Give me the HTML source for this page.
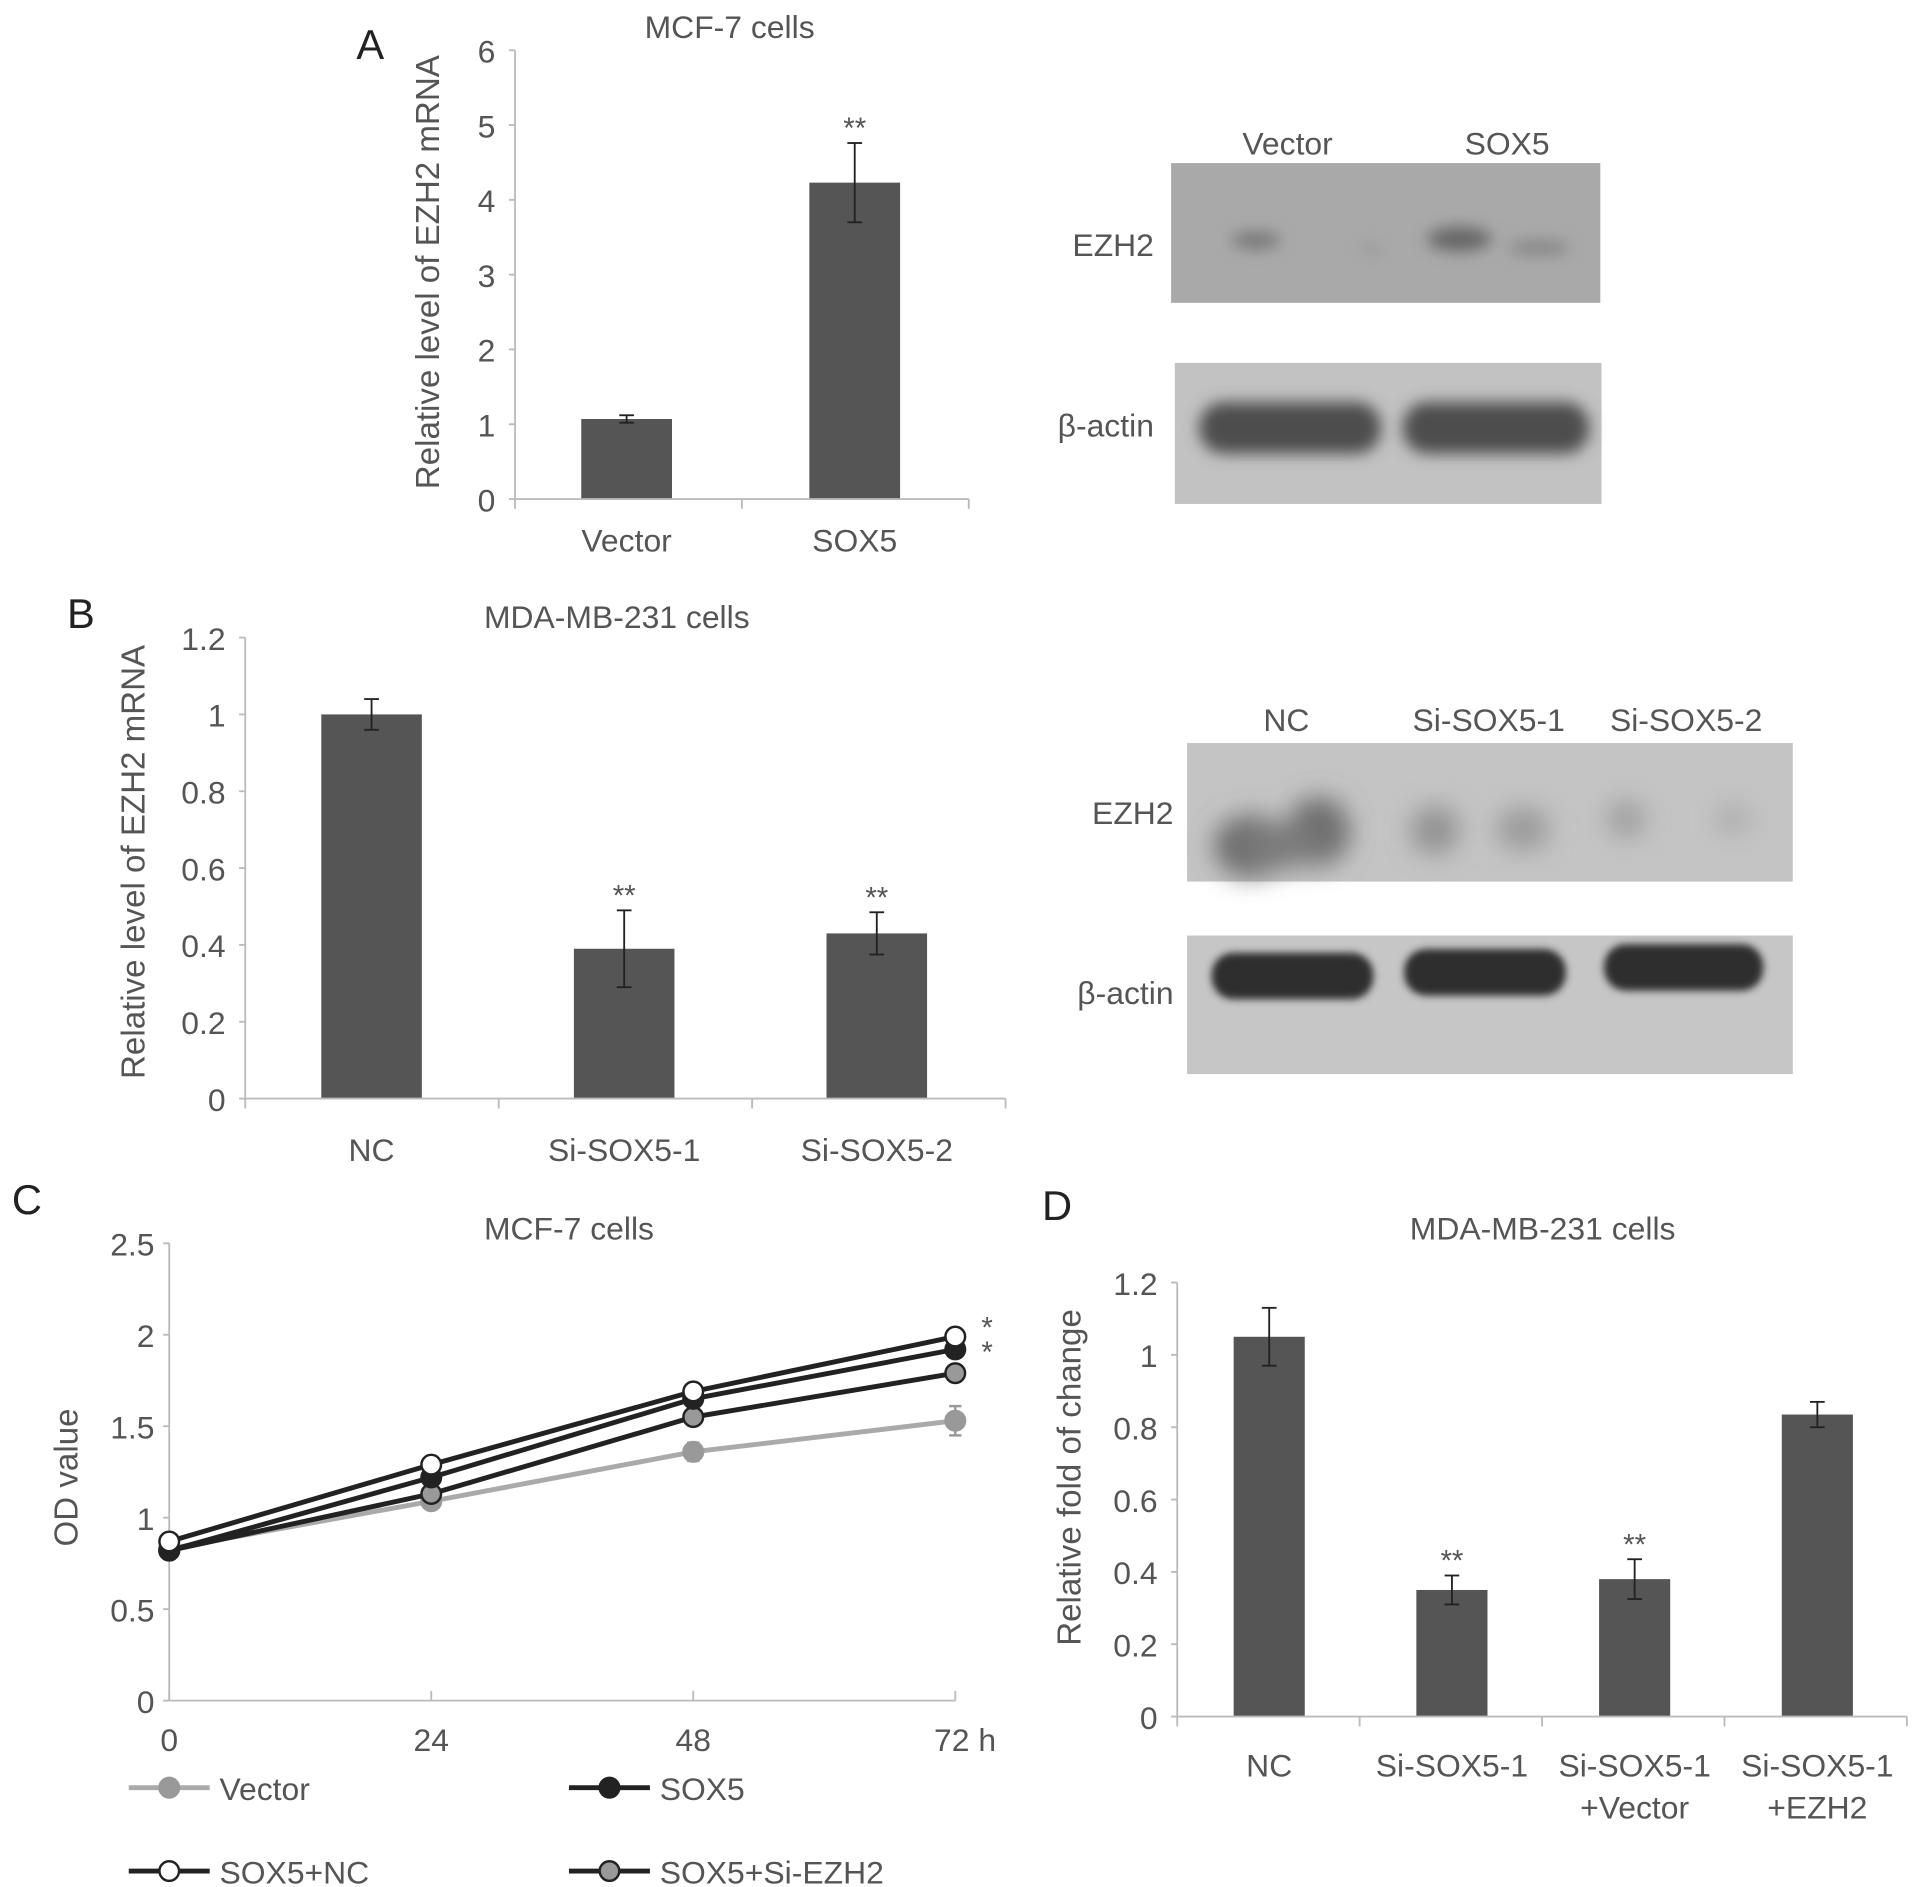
<!DOCTYPE html>
<html><head><meta charset="utf-8">
<style>
html,body{margin:0;padding:0;background:#fff;}
svg{display:block;}
text{font-family:"Liberation Sans",sans-serif;fill:#555;}
</style></head>
<body>
<svg id="fig" width="1913" height="1887" viewBox="0 0 1560 1539" preserveAspectRatio="none" xmlns="http://www.w3.org/2000/svg">
<defs>
<filter id="blur6" x="-50%" y="-50%" width="200%" height="200%"><feGaussianBlur stdDeviation="6"/></filter>
<filter id="blur10" x="-50%" y="-50%" width="200%" height="200%"><feGaussianBlur stdDeviation="10"/></filter>
<filter id="blur3" x="-50%" y="-50%" width="200%" height="200%"><feGaussianBlur stdDeviation="3"/></filter>
</defs>
<!-- Western blot A -->
<g>
<text x="1050" y="126" font-size="26" text-anchor="middle">Vector</text>
<text x="1229" y="126" font-size="26" text-anchor="middle">SOX5</text>
<text x="941" y="209" font-size="26" text-anchor="end">EZH2</text>
<text x="941" y="356" font-size="26" text-anchor="end">β-actin</text>
<rect x="955" y="133" width="350" height="114" fill="#a9a9a9"/>
<g filter="url(#blur6)">
<ellipse cx="1024" cy="196" rx="20" ry="7" fill="#777"/>
<ellipse cx="1118" cy="203" rx="8" ry="5" fill="#999"/>
<ellipse cx="1190" cy="195" rx="26" ry="10" fill="#666"/>
<ellipse cx="1255" cy="202" rx="25" ry="6" fill="#858585"/>
</g>
<rect x="958" y="296" width="348" height="115" fill="#c2c2c2"/>
<g filter="url(#blur6)">
<rect x="978" y="328" width="148" height="42" rx="20" fill="#4e4e4e"/>
<rect x="1144" y="328" width="152" height="42" rx="20" fill="#4e4e4e"/>
</g>
</g>
<!-- Western blot B -->
<g>
<text x="1049" y="596" font-size="26" text-anchor="middle">NC</text>
<text x="1214" y="596" font-size="26" text-anchor="middle">Si-SOX5-1</text>
<text x="1375" y="596" font-size="26" text-anchor="middle">Si-SOX5-2</text>
<text x="957" y="672" font-size="26" text-anchor="end">EZH2</text>
<text x="957" y="819" font-size="26" text-anchor="end">β-actin</text>
<rect x="968" y="606" width="494" height="113" fill="#c4c4c4"/>
<g filter="url(#blur10)">
<ellipse cx="1020" cy="690" rx="30" ry="25" fill="#6a6a6a"/>
<ellipse cx="1075" cy="678" rx="26" ry="28" fill="#6e6e6e"/>
<ellipse cx="1045" cy="690" rx="35" ry="18" fill="#7a7a7a"/>
<ellipse cx="1170" cy="677" rx="20" ry="20" fill="#939393"/>
<ellipse cx="1242" cy="676" rx="22" ry="18" fill="#9b9b9b"/>
<ellipse cx="1326" cy="668" rx="16" ry="16" fill="#a0a0a0"/>
<ellipse cx="1413" cy="668" rx="15" ry="12" fill="#adadad"/>
</g>
<rect x="968" y="763" width="494" height="113" fill="#c6c6c6"/>
<g filter="url(#blur3)">
<rect x="988" y="777" width="132" height="38" rx="18" fill="#2e2e2e"/>
<rect x="1145" y="774" width="132" height="38" rx="18" fill="#2e2e2e"/>
<rect x="1308" y="770" width="130" height="38" rx="18" fill="#2e2e2e"/>
</g>
</g>
</svg>
<script>
const NS='http://www.w3.org/2000/svg';
const fig=document.getElementById('fig');
// ---- data ----
const aCats=['Vector','SOX5'];
const aVals=[1.07,4.23];
const aErrs=[0.05,0.53];
const aSig=['','**'];
const aTicks=[0,1,2,3,4,5,6];

const bCats=['NC','Si-SOX5-1','Si-SOX5-2'];
const bVals=[1.0,0.39,0.43];
const bErrs=[0.04,0.1,0.055];
const bSig=['','**','**'];
const bTicks=['0','0.2','0.4','0.6','0.8','1','1.2'];

const cTimes=[0,24,48,72];
const cTimeLabels=['0','24','48','72 h'];
const cVector=[0.83,1.09,1.36,1.53];
const cVectorErr=[0.03,0.03,0.05,0.08];
const cSox5=[0.82,1.22,1.65,1.92];
const cSox5NC=[0.87,1.29,1.69,1.99];
const cSox5Si=[0.82,1.13,1.55,1.79];
const cTicks=['0','0.5','1','1.5','2','2.5'];

const dCats=[['NC'],['Si-SOX5-1'],['Si-SOX5-1','+Vector'],['Si-SOX5-1','+EZH2']];
const dVals=[1.05,0.35,0.38,0.835];
const dErrs=[0.08,0.04,0.055,0.035];
const dSig=['','**','**',''];
const dTicks=['0','0.2','0.4','0.6','0.8','1','1.2'];

function el(tag,attrs,parent){const e=document.createElementNS(NS,tag);for(const k in attrs)e.setAttribute(k,attrs[k]);(parent||fig).appendChild(e);return e;}
function txt(s,x,y,size,anchor,parent,name){const t=el('text',{x:x,y:y,'font-size':size,'text-anchor':anchor||'middle'},parent);t.textContent=s;


return t;}

function barChart(cfg){
  const g=el('g',{});
  
  
  const {x0,x1,y0,yTop,vmax,cats,vals,errs,sig,ticks,centers,bw}=cfg;
  const Y=v=>y0-(v/vmax)*(y0-yTop);
  const X=i=>centers[0]+i*(centers[1]-centers[0]);
  // y axis
  const ya=el('line',{x1:x0,y1:yTop,x2:x0,y2:y0,stroke:'#bbb','stroke-width':1.5},g);
  
  
  ticks.forEach(t=>{const v=parseFloat(t);
    el('line',{x1:x0-5,y1:Y(v),x2:x0,y2:Y(v),stroke:'#bbb','stroke-width':1.5},g);
    txt(String(t),x0-16,Y(v)+10,26,'end',g,'y-tick-label');});
  // bars
  vals.forEach((v,i)=>{const cx=X(i);
    const r=el('rect',{x:cx-bw/2,y:Y(v),width:bw,height:y0-Y(v),fill:'#555'},g);
    
    
    const e=errs[i];
    el('line',{x1:cx,y1:Y(v+e),x2:cx,y2:Y(v-e),stroke:'#222','stroke-width':1.5},g);
    el('line',{x1:cx-6,y1:Y(v+e),x2:cx+6,y2:Y(v+e),stroke:'#222','stroke-width':1.5},g);
    el('line',{x1:cx-6,y1:Y(v-e),x2:cx+6,y2:Y(v-e),stroke:'#222','stroke-width':1.5},g);
    if(sig[i])txt(sig[i],cx,Y(v+e)-4,24,'middle',g,'significance-mark');
    const lab=cats[i];const lines=Array.isArray(lab)?lab:[lab];
    lines.forEach((s,j)=>txt(s,cx,cfg.labY+j*34,26,'middle',g,'x-category-label'));
  });
  // x axis
  const xa=el('line',{x1:x0,y1:y0,x2:x1,y2:y0,stroke:'#bbb','stroke-width':1.5},g);
  
  
  const step=(x1-x0)/cats.length;
  for(let i=1;i<=cats.length;i++)el('line',{x1:x0+i*step,y1:y0,x2:x0+i*step,y2:y0+8,stroke:'#bbb','stroke-width':1.5},g);
  el('line',{x1:x0,y1:y0,x2:x0,y2:y0+8,stroke:'#bbb','stroke-width':1.5},g);
  // title / y title / panel letter
  txt(cfg.title,cfg.titleX,cfg.titleY,26,'middle',g,'chart-title');
  const yt=txt(cfg.yTitle,0,0,27,'middle',g,'y-axis-title');
  yt.setAttribute('transform','translate('+cfg.yTitleX+','+cfg.yTitleY+') rotate(-90)');
  txt(cfg.letter,cfg.letX,cfg.letY,34,'middle',g,'panel-letter').setAttribute('style','fill:#222');
}

barChart({name:'panel-a-chart',x0:420,x1:790,y0:407,yTop:41,vmax:6,cats:aCats,vals:aVals,errs:aErrs,sig:aSig,ticks:aTicks,centers:[511,697],bw:74,labY:450,
 title:'MCF-7 cells',titleX:595,titleY:31,yTitle:'Relative level of EZH2 mRNA',yTitleX:358,yTitleY:222,letter:'A',letX:302,letY:48});
barChart({name:'panel-b-chart',x0:200,x1:820,y0:896,yTop:520,vmax:1.2,cats:bCats,vals:bVals,errs:bErrs,sig:bSig,ticks:bTicks,centers:[303,509],bw:82,labY:947,
 title:'MDA-MB-231 cells',titleX:503,titleY:512,yTitle:'Relative level of EZH2 mRNA',yTitleX:118,yTitleY:703,letter:'B',letX:66,letY:512});
barChart({name:'panel-d-chart',x0:960,x1:1555,y0:1400,yTop:1046,vmax:1.2,cats:dCats,vals:dVals,errs:dErrs,sig:dSig,ticks:dTicks,centers:[1035,1184],bw:58,labY:1449,
 title:'MDA-MB-231 cells',titleX:1258,titleY:1011,yTitle:'Relative fold of change',yTitleX:881,yTitleY:1205,letter:'D',letX:862,letY:995});

// ---- panel C line chart ----
(function(){
  const g=el('g',{});
  
  
  const x0=138,x1=779,y0=1387,yTop=1014,vmax=2.5;
  const X=t=>x0+(t/72)*(x1-x0);
  const Y=v=>y0-(v/vmax)*(y0-yTop);
  const ya=el('line',{x1:x0,y1:yTop,x2:x0,y2:y0,stroke:'#bbb','stroke-width':1.5},g);
  
  
  cTicks.forEach(t=>{const v=parseFloat(t);
    el('line',{x1:x0-5,y1:Y(v),x2:x0,y2:Y(v),stroke:'#bbb','stroke-width':1.5},g);
    txt(t,x0-12,Y(v)+10,26,'end',g,'y-tick-label');});
  const xa=el('line',{x1:x0,y1:y0,x2:x1,y2:y0,stroke:'#bbb','stroke-width':1.5},g);
  
  
  cTimes.forEach((t,i)=>{el('line',{x1:X(t),y1:y0-8,x2:X(t),y2:y0,stroke:'#bbb','stroke-width':1.5},g);
    txt(cTimeLabels[i],X(t)+(i==3?8:0),1428,26,'middle',g,'x-tick-label');});
  const series=[
    {name:'vector',vals:cVector,stroke:'#aaa',fill:'#999',mstroke:'#999',err:cVectorErr},
    {name:'sox5-si-ezh2',vals:cSox5Si,stroke:'#222',fill:'#999',mstroke:'#222'},
    {name:'sox5',vals:cSox5,stroke:'#222',fill:'#222',mstroke:'#222'},
    {name:'sox5-nc',vals:cSox5NC,stroke:'#222',fill:'#fff',mstroke:'#222'}];
  series.forEach(s=>{
    const pts=cTimes.map((t,i)=>X(t)+','+Y(s.vals[i])).join(' ');
    const pl=el('polyline',{points:pts,fill:'none',stroke:s.stroke,'stroke-width':4},g);
    
    
    cTimes.forEach((t,i)=>{
      if(s.err){const e=s.err[i];el('line',{x1:X(t),y1:Y(s.vals[i]+e),x2:X(t),y2:Y(s.vals[i]-e),stroke:'#999','stroke-width':2},g);
        el('line',{x1:X(t)-5,y1:Y(s.vals[i]+e),x2:X(t)+5,y2:Y(s.vals[i]+e),stroke:'#999','stroke-width':2},g);
        el('line',{x1:X(t)-5,y1:Y(s.vals[i]-e),x2:X(t)+5,y2:Y(s.vals[i]-e),stroke:'#999','stroke-width':2},g);}
      const c=el('circle',{cx:X(t),cy:Y(s.vals[i]),r:8,fill:s.fill,stroke:s.mstroke,'stroke-width':2},g);
      
      
    });
  });
  txt('*',805,1091,24,'middle',g,'significance-mark');
  txt('*',805,1111,24,'middle',g,'significance-mark');
  txt('MCF-7 cells',464,1011,26,'middle',g,'chart-title');
  const yt=txt('OD value',0,0,27,'middle',g,'y-axis-title');
  yt.setAttribute('transform','translate(63,1205) rotate(-90)');
  txt('C',22,990,34,'middle',g,'panel-letter').setAttribute('style','fill:#222');
  // legend
  const leg=[{l:'Vector',x:105,y:1458,stroke:'#aaa',fill:'#999',ms:'#999'},
             {l:'SOX5',x:464,y:1458,stroke:'#222',fill:'#222',ms:'#222'},
             {l:'SOX5+NC',x:105,y:1526,stroke:'#222',fill:'#fff',ms:'#222'},
             {l:'SOX5+Si-EZH2',x:464,y:1526,stroke:'#222',fill:'#999',ms:'#222'}];
  leg.forEach(o=>{
    const lg=el('g',{},g);
    
    
    el('line',{x1:o.x,y1:o.y,x2:o.x+66,y2:o.y,stroke:o.stroke,'stroke-width':4},lg);
    el('circle',{cx:o.x+33,cy:o.y,r:8,fill:o.fill,stroke:o.ms,'stroke-width':2},lg);
    txt(o.l,o.x+74,o.y+10,26,'start',lg,'legend-label');
  });
})();
</script>
</body></html>
